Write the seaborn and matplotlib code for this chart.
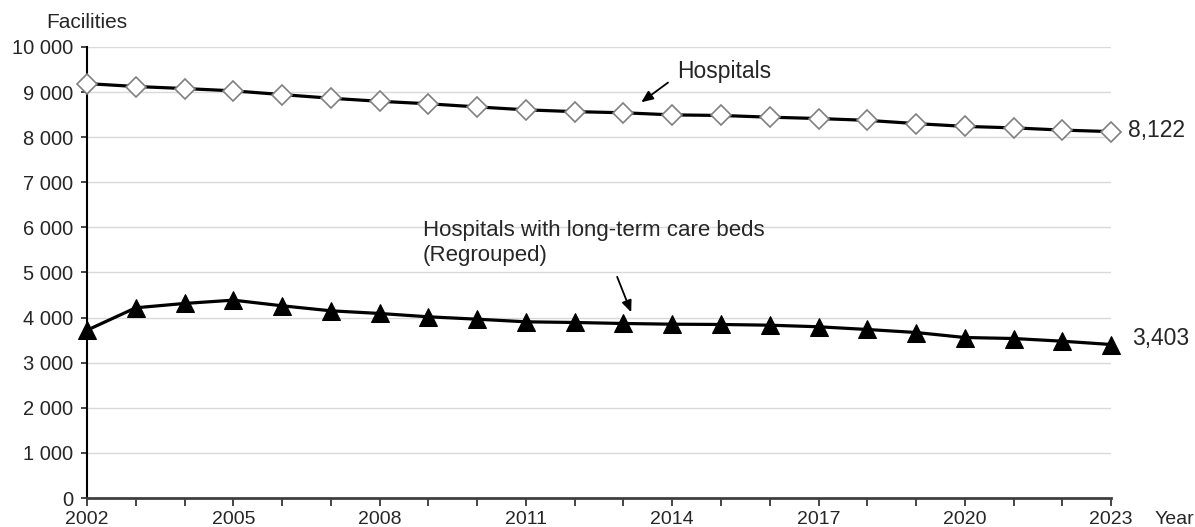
import matplotlib
matplotlib.use("Agg")
import matplotlib.pyplot as plt
import numpy as np
import pandas as pd
import seaborn as sns
from matplotlib.ticker import FuncFormatter, MultipleLocator

YEARS = list(range(2002, 2024))
HOSPITALS = [9187, 9122, 9077, 9026, 8943, 8862, 8794, 8739, 8670, 8605, 8565,
             8540, 8493, 8480, 8442, 8412, 8372, 8300, 8238, 8205, 8156, 8122]
LTC_HOSPITALS = [3720, 4217, 4313, 4386, 4261, 4150, 4091, 4017, 3964, 3906, 3891,
                 3869, 3853, 3847, 3831, 3796, 3736, 3669, 3558, 3536, 3476, 3403]
XTICK_YEARS = [2002, 2005, 2008, 2011, 2014, 2017, 2020, 2023]

sns.set_style("white")
plt.rcParams["font.family"] = ["Liberation Sans", "DejaVu Sans"]

df = pd.DataFrame({"year": YEARS, "hospitals": HOSPITALS, "ltc": LTC_HOSPITALS})

fig = plt.figure(figsize=(11.95, 5.27), dpi=100)
ax = fig.add_axes([0.0728, 0.055, 0.857, 0.856])

sns.lineplot(data=df, x="year", y="hospitals", ax=ax, color="black", linewidth=2.3,
             marker="D", markersize=10, markerfacecolor="white",
             markeredgecolor="#808080", markeredgewidth=1.2, zorder=3, clip_on=False)
sns.lineplot(data=df, x="year", y="ltc", ax=ax, color="black", linewidth=2.3,
             marker="^", markersize=12.5, markerfacecolor="black",
             markeredgecolor="black", zorder=3, clip_on=False)

ax.set_xlim(2002, 2023)
ax.set_ylim(0, 10000)
ax.yaxis.set_major_locator(MultipleLocator(1000))
ax.yaxis.set_major_formatter(FuncFormatter(lambda v, p: f"{int(v):,}".replace(",", " ")))
ax.set_xticks(YEARS, minor=True)
ax.set_xticks(XTICK_YEARS)
ax.grid(axis="y", color="#d9d9d9", linewidth=1)
ax.set_xlabel("")
ax.set_ylabel("")

for side in ["top", "right"]:
    ax.spines[side].set_visible(False)
ax.spines["left"].set_color("black")
ax.spines["left"].set_linewidth(1.5)
ax.spines["bottom"].set_color("#404040")
ax.spines["bottom"].set_linewidth(2)

ax.tick_params(axis="y", left=True, length=4, width=1.2, labelsize=14.5, pad=6)
ax.tick_params(axis="x", which="both", bottom=True, direction="out", length=6,
               width=1.2, labelsize=14, pad=3)

fig.text(46 / 1195, 1 - 23 / 527, "Facilities", fontsize=15, va="center", ha="left")
fig.text(1155 / 1195, 1 - 520 / 527, "Year", fontsize=14, va="center", ha="left")

ax.annotate(f"{HOSPITALS[-1]:,}", xy=(YEARS[-1], HOSPITALS[-1]), xytext=(12, 1),
            textcoords="offset points", fontsize=16.5, va="center")
ax.annotate(f"{LTC_HOSPITALS[-1]:,}", xy=(YEARS[-1], LTC_HOSPITALS[-1]), xytext=(15, 4),
            textcoords="offset points", fontsize=16.5, va="center")

ax.annotate("", xy=(2013.32, 8736), xytext=(2013.96, 9246),
            arrowprops=dict(arrowstyle="-|>,head_length=0.7,head_width=0.3",
                            color="black", lw=1.3))
ax.text(2014.1, 9446, "Hospitals", fontsize=16.5, va="center")

ax.annotate("", xy=(2013.18, 4060), xytext=(2012.85, 4960),
            arrowprops=dict(arrowstyle="-|>,head_length=0.7,head_width=0.3",
                            color="black", lw=1.3))
ax.text(2008.89, 5654, "Hospitals with long-term care beds\n(Regrouped)",
        fontsize=16, va="center", linespacing=1.25)

fig.savefig("out.png", dpi=100)
